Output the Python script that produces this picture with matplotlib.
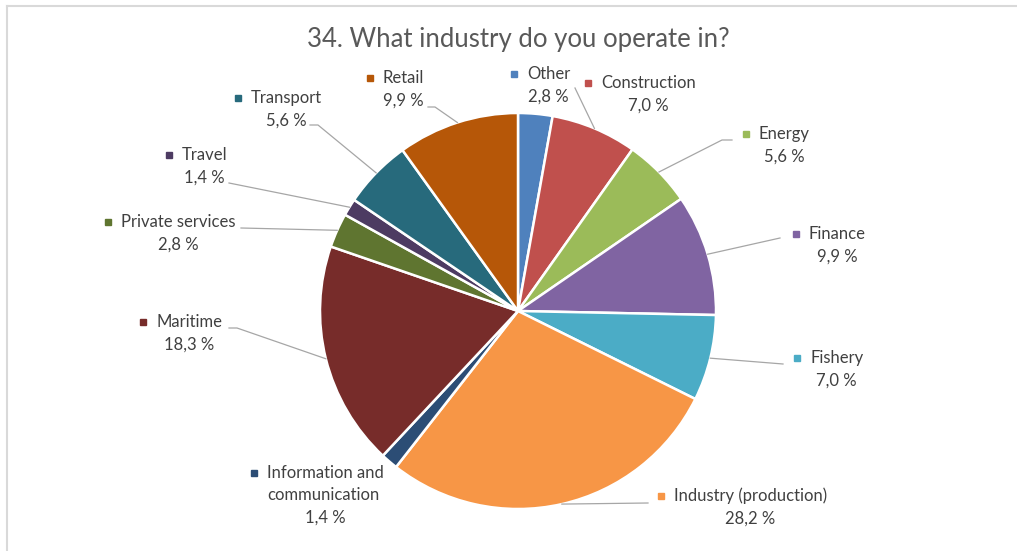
import numpy as np
import matplotlib.pyplot as plt
import matplotlib.lines as mlines

W, H = 1017, 551

# survey answers, clockwise from 12 o'clock
industries = ['Other', 'Construction', 'Energy', 'Finance', 'Fishery',
              'Industry (production)', 'Information and\ncommunication',
              'Maritime', 'Private services', 'Travel', 'Transport', 'Retail']
shares = [2.8, 7.0, 5.6, 9.9, 7.0, 28.2, 1.4, 18.3, 2.8, 1.4, 5.6, 9.9]
colors = ['#4F81BD', '#C0504D', '#9BBB59', '#8064A2', '#4BACC6', '#F79646',
          '#2C4D75', '#772C2A', '#5F7530', '#4D3B62', '#276A7C', '#B65708']

# label anchor (left edge of name, first row) in pixels from top-left
label_pos = {
    'Other': (527, 74), 'Construction': (601, 83), 'Energy': (759, 134),
    'Finance': (809, 234), 'Fishery': (810, 358),
    'Industry (production)': (674, 496),
    'Information and\ncommunication': (267, 473),
    'Maritime': (156, 322), 'Private services': (121, 222),
    'Travel': (182, 155), 'Transport': (251, 98), 'Retail': (383, 78),
}
# leader line elbow points (pixels), the line ends at the slice edge
leaders = {
    'Construction': [(575, 88)],
    'Energy': [(732, 140), (722, 140)],
    'Finance': [(780, 238)],
    'Fishery': [(783, 364)],
    'Industry (production)': [(648, 503)],
    'Maritime': [(229, 328), (237, 328)],
    'Private services': [(241, 228)],
    'Travel': [(229, 183)],
    'Transport': [(310, 125), (318, 125)],
    'Retail': [(428, 107), (435, 107)],
}

plt.rcParams['font.family'] = ['Lato', 'DejaVu Sans']

fig = plt.figure(figsize=(W / 100, H / 100), dpi=100)
ax = fig.add_axes([0, 0, 1, 1])

cx, cy, r = 518, 311, 198
wedges, _ = ax.pie(shares, colors=colors, startangle=90, counterclock=False,
                   center=(cx, H - cy), radius=r,
                   wedgeprops=dict(edgecolor='white', linewidth=1.8))
ax.set_xlim(0, W)
ax.set_ylim(0, H)
ax.set_aspect('equal')
ax.axis('off')

renderer = fig.canvas.get_renderer()
txt = '#404040'
fs = 12
row = 22.5
for w, name, val in zip(wedges, industries, shares):
    lx, ly = label_pos[name]
    lines = name.split('\n')
    x0, x1 = None, None
    for i, line in enumerate(lines):
        t = ax.text(lx, H - (ly + i * row), line, ha='left', va='center',
                    fontsize=fs, color=txt)
        bb = t.get_window_extent(renderer)
        x0 = bb.x0 if x0 is None else min(x0, bb.x0)
        x1 = bb.x1 if x1 is None else max(x1, bb.x1)
    # small colour key in front of the name
    ax.plot(lx - 13, H - ly, marker='s', markersize=5,
            color=w.get_facecolor(), linestyle='none')
    # value line centred under the name
    vy = ly + row * len(lines)
    ax.text((x0 + x1) / 2, H - vy, f'{val:.1f} %'.replace('.', ','),
            ha='center', va='center', fontsize=fs, color=txt)

    if name in leaders:
        ang = np.deg2rad((w.theta1 + w.theta2) / 2)
        ex, ey = cx + r * np.cos(ang), (H - cy) + r * np.sin(ang)
        pts = [(x, H - y) for x, y in leaders[name]] + [(ex, ey)]
        xs, ys = zip(*pts)
        ax.add_line(mlines.Line2D(xs, ys, color='#A6A6A6', linewidth=0.9))

fig.text(518 / W, 1 - 40 / H, '34. What industry do you operate in?',
         ha='center', va='center', fontsize=18.5, color='#595959')

# chart frame, top and left edges only
fig.add_artist(mlines.Line2D([7 / W, 7 / W], [0, 1 - 6 / H],
                             color='#D9D9D9', linewidth=1.5))
fig.add_artist(mlines.Line2D([7 / W, 1], [1 - 6 / H, 1 - 6 / H],
                             color='#D9D9D9', linewidth=1.5))

fig.savefig('out.png', dpi=100, facecolor='white')
